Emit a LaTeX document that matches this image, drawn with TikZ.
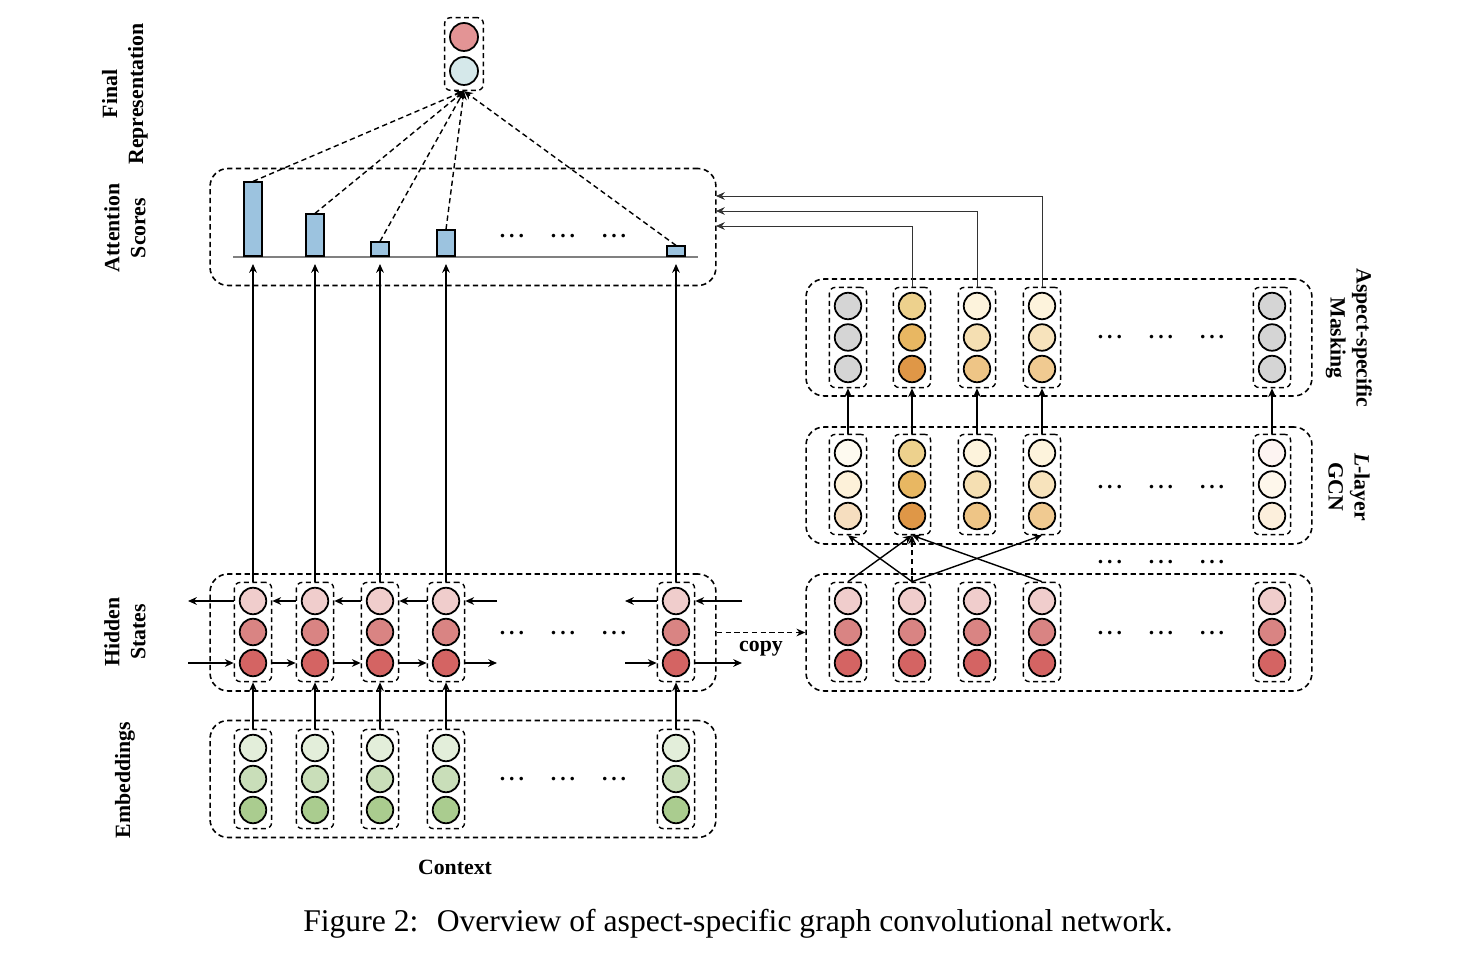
\documentclass[tikz,border=0pt]{standalone}
\usepackage{fontspec}
\setmainfont{Liberation Serif}
\usepackage{tikz}
\usetikzlibrary{arrows.meta, positioning, fit}
\definecolor{finalred}{HTML}{E39495}
\definecolor{finalblue}{HTML}{D5E8EA}
\definecolor{barblue}{HTML}{9CC3DF}
\definecolor{hidA}{HTML}{F0CDCC}
\definecolor{hidB}{HTML}{D98483}
\definecolor{hidC}{HTML}{D46463}
\definecolor{embA}{HTML}{E3EEDA}
\definecolor{embB}{HTML}{C9DEB9}
\definecolor{embC}{HTML}{AACC8F}
\definecolor{gcnOneA}{HTML}{FEFAF0}
\definecolor{gcnOneB}{HTML}{FDF1D9}
\definecolor{gcnOneC}{HTML}{F6DEBF}
\definecolor{gcnTwoA}{HTML}{EDD18D}
\definecolor{gcnTwoB}{HTML}{E8B762}
\definecolor{gcnTwoC}{HTML}{DF9747}
\definecolor{gcnThreeA}{HTML}{FDF3DC}
\definecolor{gcnThreeB}{HTML}{F5DFB2}
\definecolor{gcnThreeC}{HTML}{EEC586}
\definecolor{gcnFourA}{HTML}{FDF3DC}
\definecolor{gcnFourB}{HTML}{F7E3BC}
\definecolor{gcnFourC}{HTML}{F0CA91}
\definecolor{gcnFiveA}{HTML}{FDF4F2}
\definecolor{gcnFiveB}{HTML}{FEF7EB}
\definecolor{gcnFiveC}{HTML}{FCEFDC}
\definecolor{maskgray}{HTML}{D5D5D5}

\begin{document}
\begin{tikzpicture}[
  x=0.02cm, y=-0.02cm,
  layer/.style={
    draw, dash pattern=on 3pt off 2pt, line width=0.9pt,
    rounded corners=0.36cm, minimum width=10.12cm, minimum height=2.34cm
  },
  colbox/.style={
    draw, dash pattern=on 2.8pt off 2pt, line width=0.8pt,
    rounded corners=0.12cm, inner sep=0.09cm
  },
  cell/.style={
    circle, draw, fill=#1, line width=1pt, minimum size=0.53cm, inner sep=0pt
  },
  bar/.style={
    draw, fill=barblue, line width=0.9pt, minimum width=0.36cm,
    minimum height=#1, inner sep=0pt, anchor=south
  },
  connector/.style={
    -{Stealth[length=5pt, width=4.4pt]}, line width=0.8pt
  },
  weight/.style={
    connector, dash pattern=on 3pt off 2pt
  },
  feedback/.style={
    -{Stealth[length=5pt, width=4.4pt]}, line width=0.5pt, color=black!80
  },
  label/.style={
    font=\fontsize{12.4}{14.8}\selectfont\bfseries, align=center
  },
  dotrow/.style={
    font=\fontsize{12.4}{14.8}\selectfont\bfseries, inner sep=0pt
  }
]
\useasboundingbox (0,0) rectangle (1472,962);

% Final Representation
\node[cell=finalred, minimum size=0.56cm] (fra) at (464,37) {};
\node[cell=finalblue, minimum size=0.56cm] (frb) at (464,71) {};
\node[colbox, fit=(fra)(frb)] (fr) {};
\node[label, rotate=90] (frlabel) at (125,94) {Final\\Representation};

% Attention Scores
\node[layer] (att) at (463,227) {};
\draw[gray, line width=0.8pt] (233,257) -- (698,257);
\node[bar=1.48cm] (s1) at (253,257) {};
\node[bar=0.84cm] (s2) at (315,257) {};
\node[bar=0.28cm] (s3) at (380,257) {};
\node[bar=0.52cm] (s4) at (446,257) {};
\node[bar=0.2cm] (s5) at (676,257) {};
\node[dotrow] (attdots) at (563,236) {.\hspace{2.2pt}.\hspace{2.2pt}.\hspace{0.54cm}.\hspace{2.2pt}.\hspace{2.2pt}.\hspace{0.54cm}.\hspace{2.2pt}.\hspace{2.2pt}.};
\node[label, rotate=90] (attlabel) at (125,228) {Attention\\Scores};

% Hidden States
\node[layer] (hid) at (463,632.5) {};
\node[cell=hidA] (h1a) at (253,601) {}; \node[cell=hidB] (h1b) at (253,632) {}; \node[cell=hidC] (h1c) at (253,663) {};
\node[cell=hidA] (h2a) at (315,601) {}; \node[cell=hidB] (h2b) at (315,632) {}; \node[cell=hidC] (h2c) at (315,663) {};
\node[cell=hidA] (h3a) at (380,601) {}; \node[cell=hidB] (h3b) at (380,632) {}; \node[cell=hidC] (h3c) at (380,663) {};
\node[cell=hidA] (h4a) at (446,601) {}; \node[cell=hidB] (h4b) at (446,632) {}; \node[cell=hidC] (h4c) at (446,663) {};
\node[cell=hidA] (h5a) at (676,601) {}; \node[cell=hidB] (h5b) at (676,632) {}; \node[cell=hidC] (h5c) at (676,663) {};
\node[colbox, fit=(h1a)(h1c)] (h1) {};
\node[colbox, fit=(h2a)(h2c)] (h2) {};
\node[colbox, fit=(h3a)(h3c)] (h3) {};
\node[colbox, fit=(h4a)(h4c)] (h4) {};
\node[colbox, fit=(h5a)(h5c)] (h5) {};
\node[dotrow] (hiddots) at (563,633) {.\hspace{2.2pt}.\hspace{2.2pt}.\hspace{0.54cm}.\hspace{2.2pt}.\hspace{2.2pt}.\hspace{0.54cm}.\hspace{2.2pt}.\hspace{2.2pt}.};
\node[label, rotate=90] (hidlabel) at (125,632) {Hidden\\States};

% Embeddings
\node[layer] (emb) at (463,779) {};
\node[cell=embA] (e1a) at (253,748) {}; \node[cell=embB] (e1b) at (253,779) {}; \node[cell=embC] (e1c) at (253,810) {};
\node[cell=embA] (e2a) at (315,748) {}; \node[cell=embB] (e2b) at (315,779) {}; \node[cell=embC] (e2c) at (315,810) {};
\node[cell=embA] (e3a) at (380,748) {}; \node[cell=embB] (e3b) at (380,779) {}; \node[cell=embC] (e3c) at (380,810) {};
\node[cell=embA] (e4a) at (446,748) {}; \node[cell=embB] (e4b) at (446,779) {}; \node[cell=embC] (e4c) at (446,810) {};
\node[cell=embA] (e5a) at (676,748) {}; \node[cell=embB] (e5b) at (676,779) {}; \node[cell=embC] (e5c) at (676,810) {};
\node[colbox, fit=(e1a)(e1c)] (e1) {};
\node[colbox, fit=(e2a)(e2c)] (e2) {};
\node[colbox, fit=(e3a)(e3c)] (e3) {};
\node[colbox, fit=(e4a)(e4c)] (e4) {};
\node[colbox, fit=(e5a)(e5c)] (e5) {};
\node[dotrow] (embdots) at (563,779) {.\hspace{2.2pt}.\hspace{2.2pt}.\hspace{0.54cm}.\hspace{2.2pt}.\hspace{2.2pt}.\hspace{0.54cm}.\hspace{2.2pt}.\hspace{2.2pt}.};
\node[label, rotate=90] (emblabel) at (125,780) {Embeddings};
\node[label] (context) at (455,867) {Context};

% Copied hidden states
\node[layer] (cpy) at (1059,632.5) {};
\node[cell=hidA] (c1a) at (848,601) {}; \node[cell=hidB] (c1b) at (848,632) {}; \node[cell=hidC] (c1c) at (848,663) {};
\node[cell=hidA] (c2a) at (912,601) {}; \node[cell=hidB] (c2b) at (912,632) {}; \node[cell=hidC] (c2c) at (912,663) {};
\node[cell=hidA] (c3a) at (977,601) {}; \node[cell=hidB] (c3b) at (977,632) {}; \node[cell=hidC] (c3c) at (977,663) {};
\node[cell=hidA] (c4a) at (1042,601) {}; \node[cell=hidB] (c4b) at (1042,632) {}; \node[cell=hidC] (c4c) at (1042,663) {};
\node[cell=hidA] (c5a) at (1272,601) {}; \node[cell=hidB] (c5b) at (1272,632) {}; \node[cell=hidC] (c5c) at (1272,663) {};
\node[colbox, fit=(c1a)(c1c)] (c1) {};
\node[colbox, fit=(c2a)(c2c)] (c2) {};
\node[colbox, fit=(c3a)(c3c)] (c3) {};
\node[colbox, fit=(c4a)(c4c)] (c4) {};
\node[colbox, fit=(c5a)(c5c)] (c5) {};
\node[dotrow] (cpydots) at (1161,633) {.\hspace{2.2pt}.\hspace{2.2pt}.\hspace{0.54cm}.\hspace{2.2pt}.\hspace{2.2pt}.\hspace{0.54cm}.\hspace{2.2pt}.\hspace{2.2pt}.};
\node[dotrow] (stackdots) at (1161,562) {.\hspace{2.2pt}.\hspace{2.2pt}.\hspace{0.54cm}.\hspace{2.2pt}.\hspace{2.2pt}.\hspace{0.54cm}.\hspace{2.2pt}.\hspace{2.2pt}.};

% L-layer GCN
\node[layer] (gcn) at (1059,485.5) {};
\node[cell=gcnOneA] (g1a) at (848,453) {}; \node[cell=gcnOneB] (g1b) at (848,484.5) {}; \node[cell=gcnOneC] (g1c) at (848,516) {};
\node[cell=gcnTwoA] (g2a) at (912,453) {}; \node[cell=gcnTwoB] (g2b) at (912,484.5) {}; \node[cell=gcnTwoC] (g2c) at (912,516) {};
\node[cell=gcnThreeA] (g3a) at (977,453) {}; \node[cell=gcnThreeB] (g3b) at (977,484.5) {}; \node[cell=gcnThreeC] (g3c) at (977,516) {};
\node[cell=gcnFourA] (g4a) at (1042,453) {}; \node[cell=gcnFourB] (g4b) at (1042,484.5) {}; \node[cell=gcnFourC] (g4c) at (1042,516) {};
\node[cell=gcnFiveA] (g5a) at (1272,453) {}; \node[cell=gcnFiveB] (g5b) at (1272,484.5) {}; \node[cell=gcnFiveC] (g5c) at (1272,516) {};
\node[colbox, fit=(g1a)(g1c)] (g1) {};
\node[colbox, fit=(g2a)(g2c)] (g2) {};
\node[colbox, fit=(g3a)(g3c)] (g3) {};
\node[colbox, fit=(g4a)(g4c)] (g4) {};
\node[colbox, fit=(g5a)(g5c)] (g5) {};
\node[dotrow] (gcndots) at (1161,487) {.\hspace{2.2pt}.\hspace{2.2pt}.\hspace{0.54cm}.\hspace{2.2pt}.\hspace{2.2pt}.\hspace{0.54cm}.\hspace{2.2pt}.\hspace{2.2pt}.};
\node[label, rotate=-90] (gcnlabel) at (1349,487) {\textit{L}-layer\\GCN};

% Aspect-specific Masking
\node[layer] (msk) at (1059,337.5) {};
\node[cell=maskgray] (m1a) at (848,306) {}; \node[cell=maskgray] (m1b) at (848,337.5) {}; \node[cell=maskgray] (m1c) at (848,369) {};
\node[cell=gcnTwoA] (m2a) at (912,306) {}; \node[cell=gcnTwoB] (m2b) at (912,337.5) {}; \node[cell=gcnTwoC] (m2c) at (912,369) {};
\node[cell=gcnThreeA] (m3a) at (977,306) {}; \node[cell=gcnThreeB] (m3b) at (977,337.5) {}; \node[cell=gcnThreeC] (m3c) at (977,369) {};
\node[cell=gcnFourA] (m4a) at (1042,306) {}; \node[cell=gcnFourB] (m4b) at (1042,337.5) {}; \node[cell=gcnFourC] (m4c) at (1042,369) {};
\node[cell=maskgray] (m5a) at (1272,306) {}; \node[cell=maskgray] (m5b) at (1272,337.5) {}; \node[cell=maskgray] (m5c) at (1272,369) {};
\node[colbox, fit=(m1a)(m1c)] (m1) {};
\node[colbox, fit=(m2a)(m2c)] (m2) {};
\node[colbox, fit=(m3a)(m3c)] (m3) {};
\node[colbox, fit=(m4a)(m4c)] (m4) {};
\node[colbox, fit=(m5a)(m5c)] (m5) {};
\node[dotrow] (mskdots) at (1161,337) {.\hspace{2.2pt}.\hspace{2.2pt}.\hspace{0.54cm}.\hspace{2.2pt}.\hspace{2.2pt}.\hspace{0.54cm}.\hspace{2.2pt}.\hspace{2.2pt}.};
\node[label, rotate=-90] (msklabel) at (1349,338) {Aspect-specific\\Masking};

% Free ends
\coordinate (t1) at (253,264);
\coordinate (t2) at (315,264);
\coordinate (t3) at (380,264);
\coordinate (t4) at (446,264);
\coordinate (t5) at (676,264);
\coordinate (lin) at (188,663);
\coordinate (lout) at (188,601);
\coordinate (mout) at (497,663);
\coordinate (min) at (497,601);
\coordinate (nin) at (625,663);
\coordinate (nout) at (625,601);
\coordinate (rin) at (742,601);
\coordinate (rout) at (742,663);
\coordinate (r2) at (716,226);
\coordinate (r3) at (716,211);
\coordinate (r4) at (716,196);

% Connections
\draw[weight] (s1.north) -- (fr.south);
\draw[weight] (s2.north) -- (fr.south);
\draw[weight] (s3.north) -- (fr.south);
\draw[weight] (s4.north) -- (fr.south);
\draw[weight] (s5.north) -- (fr.south);

\draw[connector] (h1.north) -- (t1);
\draw[connector] (h2.north) -- (t2);
\draw[connector] (h3.north) -- (t3);
\draw[connector] (h4.north) -- (t4);
\draw[connector] (h5.north) -- (t5);

\draw[connector] (e1.north) -- (h1.south);
\draw[connector] (e2.north) -- (h2.south);
\draw[connector] (e3.north) -- (h3.south);
\draw[connector] (e4.north) -- (h4.south);
\draw[connector] (e5.north) -- (h5.south);

\draw[connector] (h1.west |- h1a) -- (lout);
\draw[connector] (h2.west |- h2a) -- (h1.east |- h1a);
\draw[connector] (h3.west |- h3a) -- (h2.east |- h2a);
\draw[connector] (h4.west |- h4a) -- (h3.east |- h3a);
\draw[connector] (min) -- (h4.east |- h4a);
\draw[connector] (rin) -- (h5.east |- h5a);
\draw[connector] (h5.west |- h5a) -- (nout);

\draw[connector] (lin) -- (h1.west |- h1c);
\draw[connector] (h1.east |- h1c) -- (h2.west |- h2c);
\draw[connector] (h2.east |- h2c) -- (h3.west |- h3c);
\draw[connector] (h3.east |- h3c) -- (h4.west |- h4c);
\draw[connector] (h4.east |- h4c) -- (mout);
\draw[connector] (nin) -- (h5.west |- h5c);
\draw[connector] (h5.east |- h5c) -- (rout);

\draw[weight] (hid.east) -- (cpy.west) node[label, pos=0.5, below=0.04cm] (copylabel) {copy};

\draw[connector] (c1.north) -- (g2.south);
\draw[connector] (c2.north) -- (g1.south);
\draw[weight] (c2.north) -- (g2.south);
\draw[connector] (c2.north) -- (g4.south);
\draw[connector] (c4.north) -- (g2.south);

\draw[connector] (g1.north) -- (m1.south);
\draw[connector] (g2.north) -- (m2.south);
\draw[connector] (g3.north) -- (m3.south);
\draw[connector] (g4.north) -- (m4.south);
\draw[connector] (g5.north) -- (m5.south);

\draw[feedback] (m2.north) |- (r2);
\draw[feedback] (m3.north) |- (r3);
\draw[feedback] (m4.north) |- (r4);

% Caption
\node[font=\fontsize{18}{21}\selectfont] (caption) at (738,924) {Figure 2:~ Overview of aspect-specific graph convolutional network.};

\end{tikzpicture}
\end{document}
